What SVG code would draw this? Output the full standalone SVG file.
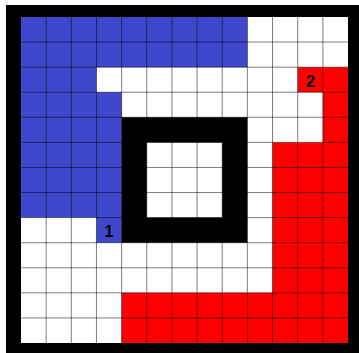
<svg xmlns="http://www.w3.org/2000/svg" width="359" height="353" viewBox="0 0 359 353">
  <style>
    .grid line { stroke: #000; stroke-opacity: 0.5; stroke-width: 1; vector-effect: non-scaling-stroke; }
    .lbl { font-family: "Liberation Sans", Arial, sans-serif; font-weight: bold; font-size: 16px; fill: #000; text-anchor: middle; }
  </style>
  <rect x="0" y="0" width="359" height="353" fill="#fff"/>
  <g id="board" transform="translate(21,17) scale(1.00615,1.00308)">
    <rect id="background" x="0" y="0" width="325" height="325" fill="#fff"/>
    <polygon id="blue-region" fill="#3F48CC" points="0,0 225,0 225,50 75,50 75,75 100,75 100,225 75,225 75,200 0,200"/>
    <polygon id="red-region" fill="#FF0000" points="275,50 325,50 325,325 100,325 100,275 250,275 250,125 300,125 300,75 275,75"/>
    <g class="grid" id="grid">
      <line x1="25" y1="0" x2="25" y2="325"/>
      <line x1="50" y1="0" x2="50" y2="325"/>
      <line x1="75" y1="0" x2="75" y2="325"/>
      <line x1="100" y1="0" x2="100" y2="325"/>
      <line x1="125" y1="0" x2="125" y2="325"/>
      <line x1="150" y1="0" x2="150" y2="325"/>
      <line x1="175" y1="0" x2="175" y2="325"/>
      <line x1="200" y1="0" x2="200" y2="325"/>
      <line x1="225" y1="0" x2="225" y2="325"/>
      <line x1="250" y1="0" x2="250" y2="325"/>
      <line x1="275" y1="0" x2="275" y2="325"/>
      <line x1="300" y1="0" x2="300" y2="325"/>
      <line x1="0" y1="25" x2="325" y2="25"/>
      <line x1="0" y1="50" x2="325" y2="50"/>
      <line x1="0" y1="75" x2="325" y2="75"/>
      <line x1="0" y1="100" x2="325" y2="100"/>
      <line x1="0" y1="125" x2="325" y2="125"/>
      <line x1="0" y1="150" x2="325" y2="150"/>
      <line x1="0" y1="175" x2="325" y2="175"/>
      <line x1="0" y1="200" x2="325" y2="200"/>
      <line x1="0" y1="225" x2="325" y2="225"/>
      <line x1="0" y1="250" x2="325" y2="250"/>
      <line x1="0" y1="275" x2="325" y2="275"/>
      <line x1="0" y1="300" x2="325" y2="300"/>
    </g>
    <path id="black-ring" fill="#000" fill-rule="evenodd" d="M100,100 H225 V225 H100 Z M125,125 V200 H200 V125 Z"/>
  </g>
  <path id="frame" fill="#000" fill-rule="evenodd" d="M6,5 H359 V353 H6 Z M21,17 V343 H348 V17 Z"/>
  <g id="label-1"><text class="lbl" x="109" y="237">1</text></g>
  <g id="label-2"><text class="lbl" x="310.5" y="87">2</text></g>
</svg>
